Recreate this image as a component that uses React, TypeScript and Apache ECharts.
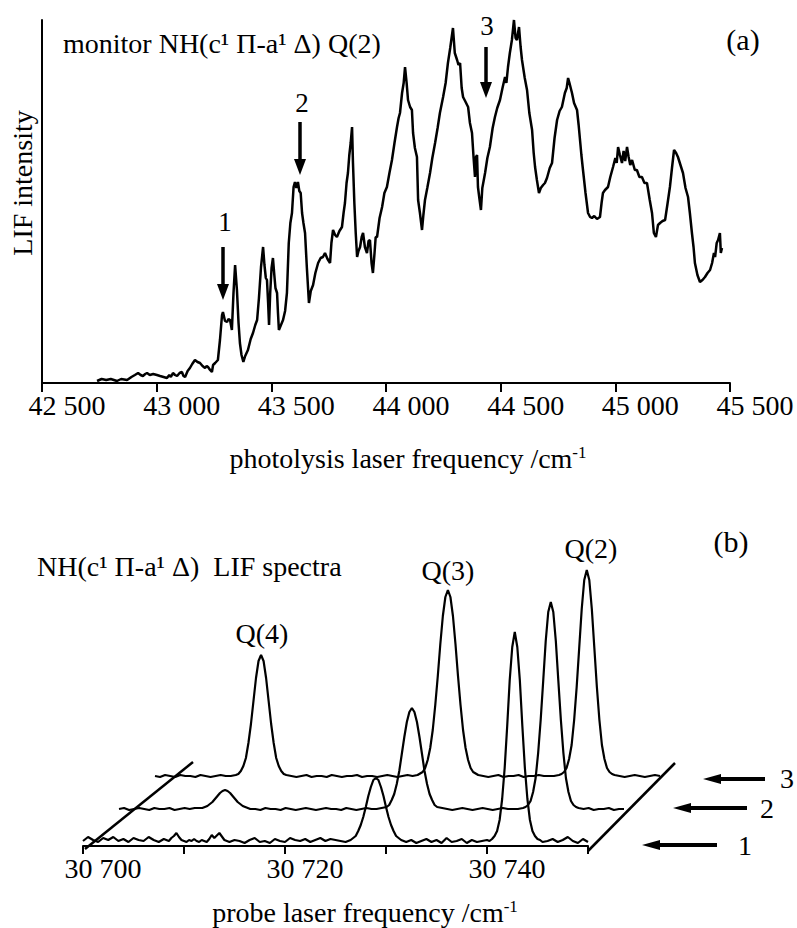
import React, { useEffect, useRef } from 'react';
import * as echarts from 'echarts';

// ---------- Panel (a): photolysis action spectrum ----------
const PHOTOLYSIS_SPECTRUM: [number, number][] = [
  [42740,2],[42760,4],[42780,3],[42800,4],[42827,2],[42845,4],[42871,3],[42890,6],[42905,8],[42919,10],
  [42930,8],[42940,7],[42950,9],[42958,10],[42970,8],[42985,9],[43001,8],[43015,7],[43030,6],[43045,5],
  [43055,8],[43062,6],[43071,10],[43080,8],[43089,7],[43100,10],[43110,11],[43117,7],[43124,6],[43135,12],
  [43145,15],[43155,19],[43167,23],[43178,21],[43189,20],[43200,17],[43211,15],[43218,17],[43224,16],[43233,13],
  [43241,11],[43246,18],[43255,20],[43267,23],[43276,43],[43285,68],[43289,71],[43298,62],[43307,61],[43313,64],
  [43320,63],[43328,53],[43335,90],[43342,118],[43350,93],[43357,60],[43363,40],[43370,28],[43378,21],[43386,27],
  [43398,33],[43410,44],[43420,50],[43430,58],[43438,63],[43446,85],[43455,116],[43464,136],[43470,118],[43476,105],
  [43481,103],[43486,80],[43490,58],[43495,90],[43501,115],[43507,125],[43513,108],[43518,95],[43525,90],[43529,70],
  [43533,53],[43542,58],[43551,63],[43560,72],[43568,90],[43576,140],[43583,160],[43590,170],[43597,196],[43603,201],
  [43609,195],[43616,201],[43622,192],[43628,190],[43634,170],[43640,160],[43647,150],[43655,115],[43664,80],[43672,92],
  [43682,98],[43692,110],[43704,120],[43715,125],[43725,126],[43734,130],[43745,124],[43756,120],[43762,140],[43769,153],
  [43778,148],[43786,146],[43797,152],[43808,156],[43815,170],[43821,180],[43828,200],[43834,210],[43840,228],[43846,240],
  [43852,256],[43856,220],[43862,180],[43868,150],[43874,126],[43880,132],[43887,136],[43894,146],[43900,150],[43908,136],
  [43917,130],[43924,142],[43930,143],[43937,120],[43943,110],[43950,130],[43955,146],[43961,146],[43972,165],[43983,176],
  [43993,190],[44004,196],[44015,210],[44026,223],[44037,240],[44048,256],[44055,265],[44061,270],[44070,290],[44077,300],
  [44083,316],[44090,300],[44096,283],[44105,276],[44113,273],[44118,250],[44126,235],[44135,226],[44140,183],[44148,170],
  [44157,153],[44163,168],[44170,183],[44180,195],[44192,210],[44202,225],[44214,240],[44225,255],[44235,270],[44249,286],
  [44260,300],[44270,320],[44280,335],[44292,355],[44300,330],[44310,323],[44316,318],[44323,320],[44330,295],[44336,286],
  [44345,282],[44358,276],[44366,260],[44375,250],[44382,225],[44388,206],[44392,226],[44397,228],[44401,196],[44407,185],
  [44414,173],[44420,195],[44432,210],[44442,225],[44453,236],[44465,255],[44475,266],[44485,275],[44497,283],[44508,295],
  [44519,306],[44525,300],[44532,316],[44540,330],[44549,343],[44558,363],[44565,345],[44571,343],[44580,356],[44587,336],
  [44593,323],[44605,305],[44615,293],[44625,270],[44637,253],[44644,230],[44650,216],[44658,203],[44667,190],[44675,195],
  [44685,198],[44693,200],[44702,205],[44714,215],[44724,220],[44735,245],[44746,263],[44757,272],[44767,276],[44780,290],
  [44788,295],[44794,305],[44800,300],[44811,290],[44820,280],[44833,273],[44840,258],[44846,243],[44852,228],[44859,213],
  [44870,190],[44881,170],[44890,166],[44898,165],[44908,167],[44920,164],[44933,166],[44940,180],[44946,190],[44955,193],
  [44968,196],[44978,206],[44990,216],[45000,225],[45006,220],[45012,236],[45020,228],[45029,220],[45036,232],[45043,222],
  [45051,236],[45058,226],[45065,218],[45073,223],[45085,213],[45094,213],[45105,206],[45116,206],[45127,200],[45138,200],
  [45150,183],[45160,170],[45168,150],[45177,146],[45186,158],[45195,160],[45206,162],[45217,163],[45228,180],[45238,196],
  [45247,215],[45256,233],[45265,230],[45273,226],[45284,218],[45295,210],[45306,195],[45317,186],[45325,170],[45334,150],
  [45341,136],[45347,120],[45358,108],[45369,101],[45380,103],[45391,106],[45402,110],[45413,113],[45422,120],[45430,130],
  [45435,126],[45442,140],[45448,143],[45456,150],[45460,130],[45465,135]
];

// ---------- Panel (b): probe LIF spectra ----------
const PROBE_FREQ = [
  30700, 30700.5, 30701, 30701.5, 30702, 30702.5, 30703, 30703.5, 30704, 30704.5, 30705, 30705.5, 30706, 30706.5, 30707, 30707.5, 30708,
  30708.25, 30708.5, 30708.75, 30709, 30709.25, 30709.5, 30709.75, 30710, 30710.25, 30710.5, 30710.75, 30711, 30711.25, 30711.5, 30711.75, 30712, 30712.25, 30712.5, 30712.75, 30713,
  30713.5, 30714, 30714.5, 30715, 30715.5, 30716, 30716.5, 30717, 30717.5, 30718, 30718.5, 30719, 30719.5, 30720, 30720.5, 30721, 30721.5, 30722, 30722.5, 30723, 30723.5, 30724, 30724.5, 30725, 30725.5, 30726, 30726.5,
  30726.75, 30727, 30727.25, 30727.5, 30727.75, 30728, 30728.25, 30728.5, 30728.75, 30729, 30729.25, 30729.5, 30729.75, 30730, 30730.25, 30730.5, 30730.75, 30731, 30731.25, 30731.5,
  30732, 30732.5, 30733, 30733.5, 30734, 30734.5, 30735, 30735.5, 30736, 30736.5, 30737, 30737.5, 30738, 30738.5, 30739, 30739.5, 30740,
  30740.25, 30740.5, 30740.75, 30741, 30741.25, 30741.5, 30741.75, 30742, 30742.25, 30742.5, 30742.75, 30743, 30743.25, 30743.5, 30743.75, 30744, 30744.25, 30744.5, 30744.75, 30745, 30745.25, 30745.5,
  30746, 30746.5, 30747, 30747.5, 30748, 30748.5, 30749, 30749.5, 30750
];

const TRACE_1 = [
  5, 9, 6, 4, 8, 6, 9, 5, 7, 4, 8, 6, 5, 9, 6, 4, 7,
  6, 5, 8, 10, 13, 9, 6, 5, 4, 6, 5, 7, 5, 4, 6, 5, 4, 7, 11, 8,
  13, 6, 4, 6, 5, 3, 6, 8, 4, 5, 3, 7, 5, 4, 8, 6, 5, 7, 4, 6, 8, 5, 7, 6, 5, 4, 6,
  8, 10, 15, 21, 29, 39, 50, 59, 66, 68, 66, 59, 50, 39, 29, 21, 15, 10, 8, 6,
  4, 6, 3, 5, 7, 4, 6, 3, 8, 4, 5, 7, 3, 6, 4, 5, 6,
  5, 7, 10, 15, 26, 47, 78, 120, 166, 199, 214, 199, 166, 120, 78, 47, 26, 15, 10, 7, 6, 4,
  5, 7, 4, 6, 9, 5, 3, 7, 4
];

const TRACE_2 = [
  3, 4, 2, 3, 4, 3, 2, 4, 3, 3, 4, 2, 3, 4, 3, 4, 4,
  4, 5, 6, 8, 10, 13, 16, 19, 21, 22, 21, 19, 16, 13, 10, 8, 6, 5, 4, 3,
  3, 2, 4, 3, 3, 2, 4, 3, 2, 3, 4, 3, 2, 3, 4, 3, 3, 2, 4, 3, 2, 3, 4, 3, 3, 4, 5,
  7, 12, 18, 28, 41, 58, 75, 90, 100, 104, 100, 90, 75, 58, 41, 28, 18, 12, 7, 5,
  4, 3, 2, 3, 4, 3, 2, 3, 4, 3, 2, 3, 4, 3, 3, 3, 4,
  5, 7, 11, 20, 34, 59, 92, 131, 171, 200, 210, 200, 171, 131, 92, 59, 34, 20, 11, 7, 5, 4,
  3, 4, 2, 3, 3, 4, 2, 3, 3
];

const TRACE_3 = [
  3, 2, 4, 3, 2, 4, 3, 3, 2, 4, 3, 2, 3, 4, 3, 3, 4,
  5, 8, 13, 21, 36, 55, 78, 101, 118, 124, 118, 101, 78, 55, 36, 21, 13, 8, 5, 4,
  3, 2, 3, 4, 2, 3, 3, 2, 4, 3, 2, 3, 3, 4, 2, 3, 3, 2, 3, 4, 3, 2, 3, 4, 3, 4, 7,
  11, 19, 31, 49, 74, 103, 135, 163, 182, 189, 182, 163, 135, 103, 74, 49, 31, 19, 11, 7,
  4, 3, 2, 3, 4, 2, 3, 3, 4, 2, 3, 3, 4, 3, 3, 3, 4,
  5, 7, 11, 20, 34, 59, 92, 131, 170, 199, 209, 199, 170, 131, 92, 59, 34, 20, 11, 7, 5, 4,
  3, 2, 3, 4, 3, 2, 3, 4, 3
];

const FONT = '"Liberation Serif", "Times New Roman", serif';

const fmt = (v: number) => {
  const s = String(Math.round(v));
  return s.slice(0, s.length - 3) + ' ' + s.slice(-3);
};

const txt = (text: string, x: number, y: number, size: number, align = 'center', extra: any = {}) => ({
  type: 'text',
  x,
  y,
  ...extra,
  style: {
    text,
    fontSize: size,
    fontFamily: FONT,
    fill: '#000',
    align,
    verticalAlign: 'middle',
    textAlign: align,
    textVerticalAlign: 'middle',
    rich: {
      sup: { fontSize: Math.round(size * 0.6), fontFamily: FONT, fill: '#000', verticalAlign: 'top' },
    },
  },
});

const seg = (x1: number, y1: number, x2: number, y2: number, w: number) => ({
  type: 'line', shape: { x1, y1, x2, y2 }, style: { stroke: '#000', lineWidth: w },
});

const downArrow = (x: number, y1: number, y2: number) => [
  seg(x, y1, x, y2 - 12, 3.5),
  { type: 'polygon', shape: { points: [[x - 6, y2 - 16], [x + 6, y2 - 16], [x, y2]] }, style: { fill: '#000' } },
];

const leftArrow = (x1: number, x2: number, y: number) => [
  seg(x2 + 14, y, x1, y, 4),
  { type: 'polygon', shape: { points: [[x2 + 18, y - 5], [x2 + 18, y + 5], [x2, y]] }, style: { fill: '#000' } },
];

const hiddenY = (gridIndex: number) => ({
  type: 'value', gridIndex, min: 0, max: 250, show: false,
  axisLine: { show: false }, splitLine: { show: false },
});

export default function App() {
  const ref = useRef<HTMLDivElement>(null);

  useEffect(() => {
    if (!ref.current) return;
    const chart = echarts.init(ref.current, null, { renderer: 'svg' });
    const traceStyle = { color: '#000', width: 2.2 };
    const pair = (i: number, arr: number[]) => [PROBE_FREQ[i], arr[i]];

    const option: any = {
      animation: false,
      backgroundColor: '#fff',
      grid: [
        { left: 42, top: 20, width: 688, height: 363, containLabel: false, outerBoundsMode: 'none' },
        { left: 83, top: 596, width: 505, height: 250, containLabel: false, outerBoundsMode: 'none' },
        { left: 119, top: 562, width: 505, height: 250, containLabel: false, outerBoundsMode: 'none' },
        { left: 155, top: 529, width: 505, height: 250, containLabel: false, outerBoundsMode: 'none' },
      ],
      xAxis: [
        {
          type: 'value', gridIndex: 0, min: 42500, max: 45500, interval: 500,
          axisLine: { show: true, onZero: false, lineStyle: { color: '#000', width: 2 } },
          axisTick: { show: true, length: 9, lineStyle: { color: '#000', width: 2 } },
          axisLabel: { color: '#000', fontFamily: FONT, fontSize: 28, margin: 8, padding: [0, 0, 0, 50], formatter: fmt },
          splitLine: { show: false },
        },
        {
          type: 'value', gridIndex: 1, min: 30700, max: 30750, interval: 10,
          axisLine: { show: true, onZero: false, lineStyle: { color: '#000', width: 2 } },
          axisTick: { show: true, length: 8, lineStyle: { color: '#000', width: 2 } },
          axisLabel: {
            color: '#000', fontFamily: FONT, fontSize: 28, margin: 8, padding: [0, 0, 0, 40],
            formatter: (v: number) => (Math.round(v) % 20 === 0 ? fmt(v) : ''),
          },
          splitLine: { show: false },
        },
        { type: 'value', gridIndex: 2, min: 30700, max: 30750, show: false, splitLine: { show: false } },
        { type: 'value', gridIndex: 3, min: 30700, max: 30750, show: false, splitLine: { show: false } },
      ],
      yAxis: [
        {
          type: 'value', gridIndex: 0, min: 0, max: 363,
          axisLine: { show: true, lineStyle: { color: '#000', width: 2 } },
          axisTick: { show: false }, axisLabel: { show: false }, splitLine: { show: false },
        },
        hiddenY(1), hiddenY(2), hiddenY(3),
      ],
      series: [
        {
          type: 'line', xAxisIndex: 0, yAxisIndex: 0, data: PHOTOLYSIS_SPECTRUM,
          showSymbol: false, lineStyle: { color: '#000', width: 2.5 }, clip: false,
        },
        {
          type: 'line', xAxisIndex: 1, yAxisIndex: 1, showSymbol: false, lineStyle: traceStyle, clip: false,
          data: PROBE_FREQ.map((_, i) => pair(i, TRACE_1)),
        },
        {
          type: 'line', xAxisIndex: 2, yAxisIndex: 2, showSymbol: false, lineStyle: traceStyle, clip: false,
          data: PROBE_FREQ.map((_, i) => pair(i, TRACE_2)),
        },
        {
          type: 'line', xAxisIndex: 3, yAxisIndex: 3, showSymbol: false, lineStyle: traceStyle, clip: false,
          data: PROBE_FREQ.map((_, i) => pair(i, TRACE_3)),
        },
      ],
      graphic: [
        // panel (a)
        txt('monitor NH(c¹ Π-a¹ Δ) Q(2)', 63, 43, 28, 'left'),
        txt('(a)', 743, 39, 30),
        txt('LIF intensity', 22, 183, 28, 'center', { rotation: Math.PI / 2 }),
        txt('photolysis laser frequency /cm{sup|-1}', 408, 458, 28),
        txt('1', 225, 222, 27),
        txt('2', 302, 103, 27),
        txt('3', 487, 26, 27),
        ...downArrow(223, 247, 300),
        ...downArrow(300, 122, 175),
        ...downArrow(486, 47, 98),
        // panel (b): perspective guide lines
        seg(85, 849, 193, 762, 2.5),
        seg(588, 851, 675, 763, 2.5),
        txt('NH(c¹ Π-a¹ Δ)  LIF spectra', 37, 566, 28, 'left'),
        txt('(b)', 731, 541, 30),
        txt('Q(4)', 262, 633, 28),
        txt('Q(3)', 448, 570, 28),
        txt('Q(2)', 591, 548, 28),
        txt('probe laser frequency /cm{sup|-1}', 365, 912, 28),
        ...leftArrow(765, 703, 779),
        ...leftArrow(747, 673, 808),
        ...leftArrow(717, 642, 845),
        txt('3', 787, 778, 28),
        txt('2', 767, 808, 28),
        txt('1', 745, 845, 28),
      ],
    };

    chart.setOption(option);
    return () => chart.dispose();
  }, []);

  return (
    <div
      ref={ref}
      style={{ position: 'absolute', left: 0, top: 0, width: 797, height: 928, background: '#fff' }}
    />
  );
}
